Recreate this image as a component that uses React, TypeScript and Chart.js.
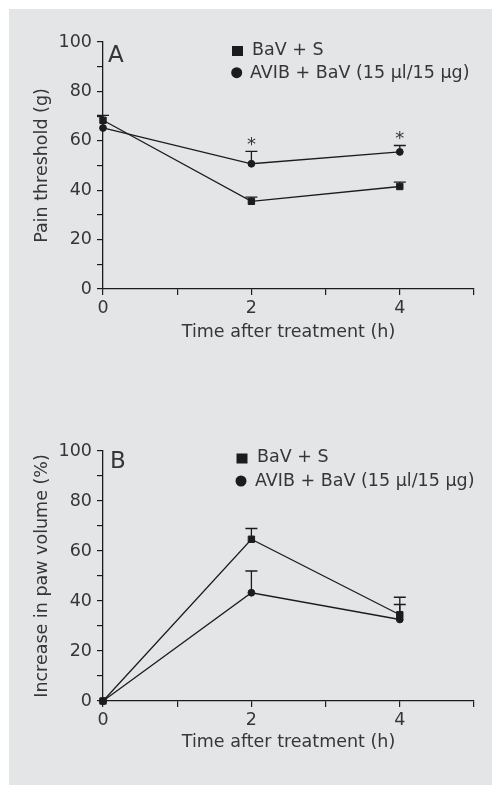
import React, { useEffect, useRef } from 'react';
import { Chart, registerables } from 'chart.js';

Chart.register(...registerables);

// ---------- data ----------
const timeHours = [0, 2, 4];
const seriesLabels = ['BaV + S', 'AVIB + BaV (15 µl/15 µg)'];
const xAxisTitle = 'Time after treatment (h)';
const xLabelledTicks = [0, 2, 4];
const yLabelledTicks = [0, 20, 40, 60, 80, 100];

// Panel A – pain threshold (g)
const painBaV = [68.3, 35.5, 41.5];
const painBaVErr = [2, 1.7, 1.8];
const painAvib = [65.2, 50.7, 55.5];
const painAvibErr = [0, 5, 2.6];
const painSignificant = [2, 4];

// Panel B – increase in paw volume (%)
const pawBaV = [0, 64.7, 34.5];
const pawBaVErr = [0, 4.3, 7];
const pawAvib = [0, 43.3, 32.6];
const pawAvibErr = [0, 8.7, 6];
const pawSignificant: number[] = [];

// ---------- styles ----------
const FONT = "'DejaVu Sans', sans-serif";
const TEXT = '#363636';
const LINE = '#1c1c1c';
const BG = '#e4e5e7';
const CW = 483;
const CH = 388;

type PanelProps = {
  top: number;
  letter: string;
  yTitle: string;
  bav: number[];
  bavErr: number[];
  avib: number[];
  avibErr: number[];
  sig: number[];
  padTop: number;
  xScaleH: number;
  xTitlePad: number;
  letterPos: [number, number];
  legendSq: [number, number];
  legendSqText: [number, number];
  legendCi: [number, number];
  legendCiText: [number, number];
};

function Panel(p: PanelProps) {
  const ref = useRef<HTMLCanvasElement>(null);
  useEffect(() => {
    const canvas = ref.current;
    if (!canvas) return;
    const errs = [p.bavErr, p.avibErr];

    const custom = {
      id: 'custom_' + p.letter,
      afterDatasetsDraw(chart: any) {
        const ctx = chart.ctx;
        const xs = chart.scales.x;
        const ys = chart.scales.y;
        ctx.save();
        ctx.strokeStyle = LINE;
        ctx.lineWidth = 1.3;
        chart.data.datasets.forEach((ds: any, di: number) => {
          ds.data.forEach((pt: any, i: number) => {
            const e = errs[di][i];
            if (!e) return;
            const x = xs.getPixelForValue(pt.x);
            const y0 = ys.getPixelForValue(pt.y);
            const y1 = ys.getPixelForValue(pt.y + e);
            ctx.beginPath();
            ctx.moveTo(x, y0);
            ctx.lineTo(x, y1);
            ctx.moveTo(x - 6, y1);
            ctx.lineTo(x + 6, y1);
            ctx.stroke();
          });
        });
        // significance asterisks above AVIB error caps
        ctx.fillStyle = TEXT;
        ctx.font = `18px ${FONT}`;
        ctx.textAlign = 'center';
        ctx.textBaseline = 'alphabetic';
        p.sig.forEach((sx) => {
          const i = timeHours.indexOf(sx);
          const yv = p.avib[i] + p.avibErr[i];
          const x = xs.getPixelForValue(sx);
          const y = ys.getPixelForValue(yv);
          ctx.fillText('*', x, y - 1);
        });
        ctx.restore();
      },
      afterDraw(chart: any) {
        const ctx = chart.ctx;
        ctx.save();
        ctx.fillStyle = TEXT;
        // panel letter
        ctx.font = `23px ${FONT}`;
        ctx.textAlign = 'left';
        ctx.textBaseline = 'alphabetic';
        ctx.fillText(p.letter, p.letterPos[0], p.letterPos[1]);
        // legend
        ctx.fillStyle = LINE;
        ctx.fillRect(p.legendSq[0] - 5.5, p.legendSq[1] - 5, 11, 10);
        ctx.beginPath();
        ctx.arc(p.legendCi[0], p.legendCi[1], 5.5, 0, Math.PI * 2);
        ctx.fill();
        ctx.fillStyle = TEXT;
        ctx.font = `17.5px ${FONT}`;
        ctx.textBaseline = 'middle';
        ctx.fillText(seriesLabels[0], p.legendSqText[0], p.legendSqText[1]);
        ctx.fillText(seriesLabels[1], p.legendCiText[0], p.legendCiText[1]);
        ctx.restore();
      },
    };

    const chart = new Chart(canvas, {
      type: 'line',
      data: {
        datasets: [
          {
            label: seriesLabels[0],
            data: timeHours.map((x, i) => ({ x, y: p.bav[i] })),
            borderColor: LINE,
            borderWidth: 1.3,
            backgroundColor: LINE,
            pointStyle: 'rect',
            pointRadius: 4.5,
            pointBorderWidth: 1,
            pointBackgroundColor: LINE,
            pointBorderColor: LINE,
            tension: 0,
            clip: false,
          } as any,
          {
            label: seriesLabels[1],
            data: timeHours.map((x, i) => ({ x, y: p.avib[i] })),
            borderColor: LINE,
            borderWidth: 1.3,
            backgroundColor: LINE,
            pointStyle: 'circle',
            pointRadius: 3.4,
            pointBorderWidth: 1,
            pointBackgroundColor: LINE,
            pointBorderColor: LINE,
            tension: 0,
            clip: false,
          } as any,
        ],
      },
      options: {
        animation: false,
        responsive: false,
        maintainAspectRatio: false,
        layout: { padding: { top: p.padTop, right: 18, left: 0, bottom: 0 } },
        plugins: {
          legend: { display: false },
          tooltip: { enabled: false },
        },
        events: [],
        scales: {
          x: {
            type: 'linear',
            min: 0,
            max: 5,
            offset: false,
            ticks: {
              stepSize: 1,
              autoSkip: false,
              maxRotation: 0,
              padding: 3,
              color: TEXT,
              font: { family: FONT, size: 17.5 },
              callback: (v: any) => (xLabelledTicks.includes(Number(v)) ? String(v) : ''),
            },
            grid: {
              drawOnChartArea: false,
              drawTicks: true,
              tickLength: 6,
              color: LINE,
              lineWidth: 1.2,
            },
            border: { display: true, color: LINE, width: 1.3 },
            title: {
              display: true,
              text: xAxisTitle,
              color: TEXT,
              font: { family: FONT, size: 17.5 },
              padding: { top: 0, bottom: p.xTitlePad },
            },
            afterFit: (s: any) => {
              s.height = p.xScaleH;
            },
          },
          y: {
            type: 'linear',
            min: 0,
            max: 100,
            ticks: {
              stepSize: 10,
              autoSkip: false,
              padding: 5,
              color: TEXT,
              font: { family: FONT, size: 17.5 },
              callback: (v: any) => (yLabelledTicks.includes(Number(v)) ? String(v) : ''),
            },
            grid: {
              drawOnChartArea: false,
              drawTicks: true,
              tickLength: 6,
              color: LINE,
              lineWidth: 1.2,
            },
            border: { display: true, color: LINE, width: 1.3 },
            title: {
              display: true,
              text: p.yTitle,
              color: TEXT,
              font: { family: FONT, size: 17.5 },
              padding: { top: 23, bottom: 0 },
            },
            afterFit: (s: any) => {
              s.width = 94;
            },
          },
        },
      } as any,
      plugins: [custom],
    });
    return () => chart.destroy();
  }, []);
  return (
    <canvas
      ref={ref}
      width={CW}
      height={CH}
      style={{ position: 'absolute', left: 0, top: p.top, width: CW, height: CH }}
    />
  );
}

export default function App() {
  return (
    <div
      style={{
        position: 'absolute',
        left: 9,
        top: 9,
        width: CW,
        height: 776,
        background: BG,
        overflow: 'hidden',
      }}
    >
      <Panel
        top={0}
        letter="A"
        yTitle="Pain threshold (g)"
        bav={painBaV}
        bavErr={painBaVErr}
        avib={painAvib}
        avibErr={painAvibErr}
        sig={painSignificant}
        padTop={33}
        xScaleH={108}
        xTitlePad={54}
        letterPos={[99, 53]}
        legendSq={[228.5, 42]}
        legendSqText={[243, 41]}
        legendCi={[227.7, 63.7]}
        legendCiText={[241, 64.5]}
      />
      <Panel
        top={388}
        letter="B"
        yTitle="Increase in paw volume (%)"
        bav={pawBaV}
        bavErr={pawBaVErr}
        avib={pawAvib}
        avibErr={pawAvibErr}
        sig={pawSignificant}
        padTop={54}
        xScaleH={84}
        xTitlePad={32}
        letterPos={[101, 71]}
        legendSq={[233, 61.5]}
        legendSqText={[248, 60]}
        legendCi={[232, 84]}
        legendCiText={[246, 84]}
      />
    </div>
  );
}
